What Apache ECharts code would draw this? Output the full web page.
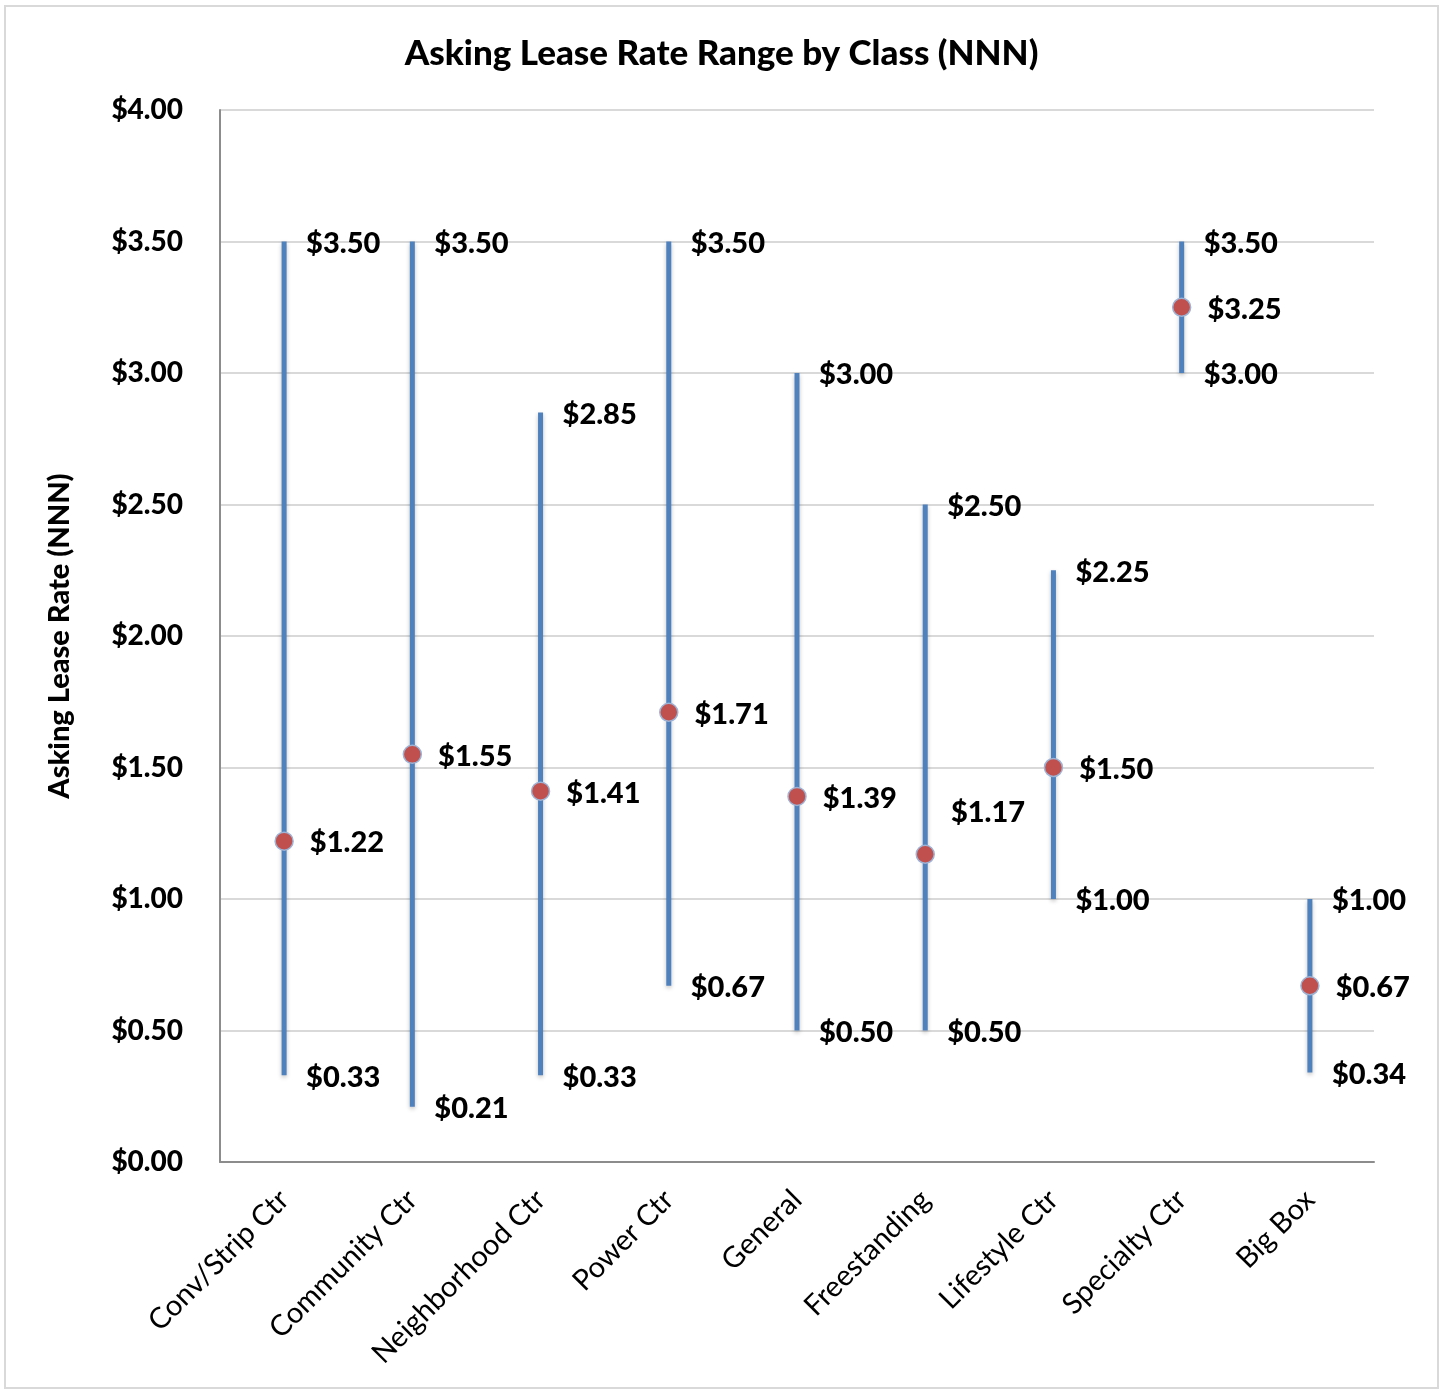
<!DOCTYPE html>
<html>
<head>
<meta charset="utf-8">
<script src="https://cdn.jsdelivr.net/npm/echarts@6/dist/echarts.min.js"></script>
<style>
  html, body { margin: 0; padding: 0; background: #fff; }
  #chart { width: 1443px; height: 1391px; }
</style>
</head>
<body>
<div id="chart"></div>
<script>
// categories and values
const categories = ['Conv/Strip Ctr', 'Community Ctr', 'Neighborhood Ctr', 'Power Ctr', 'General',
  'Freestanding', 'Lifestyle Ctr', 'Specialty Ctr', 'Big Box'];
const highs = [3.50, 3.50, 2.85, 3.50, 3.00, 2.50, 2.25, 3.50, 1.00];
const lows = [0.33, 0.21, 0.33, 0.67, 0.50, 0.50, 1.00, 3.00, 0.34];
const avgs = [1.22, 1.55, 1.41, 1.71, 1.39, 1.17, 1.50, 3.25, 0.67];
const yTicks = [0, 0.5, 1, 1.5, 2, 2.5, 3, 3.5, 4];

const FONT = 'Lato, "Open Sans", sans-serif';
const money = v => '$' + v.toFixed(2);

const chart = echarts.init(document.getElementById('chart'));

const labelBase = {
  show: true,
  position: 'right',
  offset: [0, 2],
  fontFamily: FONT,
  fontWeight: 900,
  fontSize: 29,
  color: '#000',
  formatter: p => money(p.value[1])
};

chart.setOption({
  animation: false,
  title: {
    text: 'Asking Lease Rate Range by Class (NNN)',
    left: 'center',
    top: 31,
    textStyle: { fontFamily: FONT, fontWeight: 900, fontSize: 35, color: '#000' }
  },
  graphic: [{
    type: 'rect',
    shape: { x: 5, y: 6, width: 1433, height: 1382 },
    style: { fill: 'none', stroke: '#d9d9d9', lineWidth: 2 },
    silent: true
  }],
  grid: { left: 220, right: 69, top: 110, bottom: 229 },
  xAxis: {
    type: 'category',
    data: categories,
    boundaryGap: true,
    axisLine: { lineStyle: { color: '#8c8c8c', width: 2 } },
    axisTick: { show: false },
    axisLabel: {
      rotate: 45,
      margin: 33,
      fontFamily: FONT,
      fontSize: 29,
      color: '#000'
    }
  },
  yAxis: {
    type: 'value',
    min: yTicks[0],
    max: yTicks[yTicks.length - 1],
    interval: 0.5,
    name: 'Asking Lease Rate (NNN)',
    nameLocation: 'middle',
    nameGap: 146,
    nameTextStyle: { fontFamily: FONT, fontWeight: 900, fontSize: 29, color: '#000' },
    axisLine: { show: true, lineStyle: { color: '#8c8c8c', width: 2 } },
    axisTick: { show: false },
    splitLine: { lineStyle: { color: '#d9d9d9', width: 2 } },
    axisLabel: {
      margin: 37,
      fontFamily: FONT,
      fontWeight: 900,
      fontSize: 28,
      color: '#000',
      formatter: v => money(v)
    }
  },
  series: [
    {
      type: 'custom',
      name: 'range',
      data: categories.map((c, i) => [i, lows[i], highs[i]]),
      encode: { x: 0, y: [1, 2] },
      renderItem: function (params, api) {
        const top = api.coord([api.value(0), api.value(2)]);
        const bot = api.coord([api.value(0), api.value(1)]);
        return {
          type: 'line',
          shape: { x1: top[0], y1: top[1], x2: bot[0], y2: bot[1] },
          style: {
            stroke: '#4f81bd',
            lineWidth: 5,
            shadowBlur: 4,
            shadowColor: 'rgba(0,0,0,0.25)',
            shadowOffsetY: 2
          }
        };
      },
      z: 2
    },
    {
      type: 'scatter',
      name: 'high',
      symbolSize: 0,
      itemStyle: { opacity: 1 },
      data: categories.map((c, i) => [i, highs[i]]),
      label: Object.assign({}, labelBase, { distance: 22 }),
      z: 3
    },
    {
      type: 'scatter',
      name: 'low',
      symbolSize: 0,
      itemStyle: { opacity: 1 },
      data: categories.map((c, i) => [i, lows[i]]),
      label: Object.assign({}, labelBase, { distance: 22 }),
      z: 3
    },
    {
      type: 'scatter',
      name: 'avg',
      symbol: 'circle',
      symbolSize: 18,
      itemStyle: { color: '#c0504d', borderColor: '#9db3d6', borderWidth: 1.5, opacity: 1 },
      data: categories.map((c, i) => {
        const d = { value: [i, avgs[i]] };
        if (categories[i] === 'Freestanding') {
          d.label = { position: 'right', offset: [0, -42] };
        }
        return d;
      }),
      label: Object.assign({}, labelBase, { distance: 16 }),
      z: 4
    }
  ]
});
</script>
</body>
</html>
